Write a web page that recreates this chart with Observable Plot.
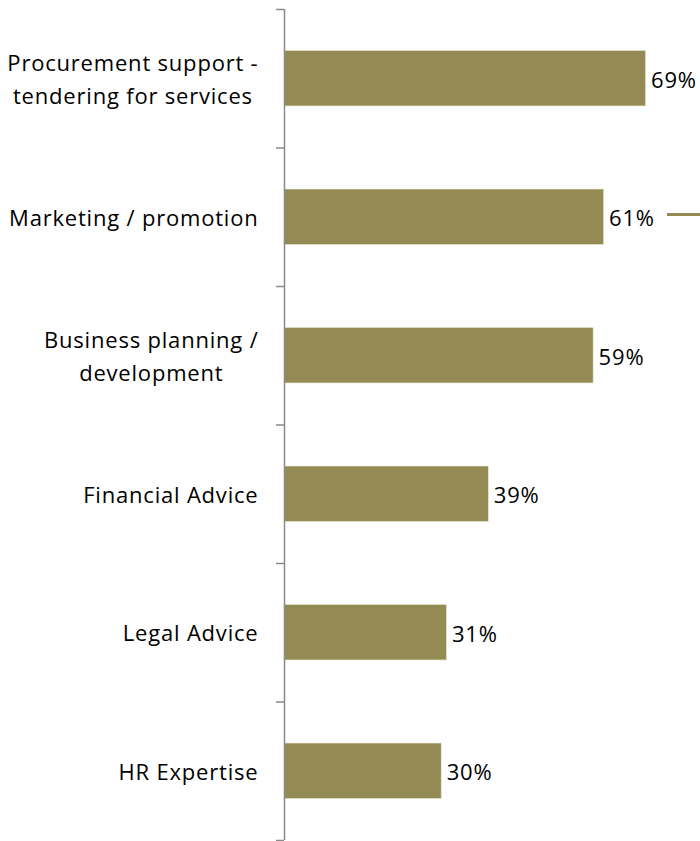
<!DOCTYPE html>
<html>
<head>
<meta charset="utf-8">
<script src="https://cdn.jsdelivr.net/npm/d3@7"></script>
<script src="https://cdn.jsdelivr.net/npm/@observablehq/plot@0.6"></script>
<style>
  html, body { margin: 0; padding: 0; background: #fff; }
  #wrap { position: relative; width: 700px; height: 841px; }
  #legendLine { position: absolute; left: 667px; top: 213px; width: 33px; height: 3px; background: #948A54; }
  svg text { letter-spacing: 0.8px; }
</style>
</head>
<body>
<div id="wrap"><div id="legendLine"></div></div>
<script>
const categories = [
  "Procurement support -\ntendering for services",
  "Marketing / promotion",
  "Business planning /\ndevelopment",
  "Financial Advice",
  "Legal Advice",
  "HR Expertise"
];
const values = [69, 61, 59, 39, 31, 30];
const valueLabels = ["69%", "61%", "59%", "39%", "31%", "30%"];

const data = categories.map((c, i) => ({cat: c, i, value: values[i], label: valueLabels[i]}));
const olive = "#948A54";
const FS = 22;

// measure text widths so multi-line labels are centred within a right-aligned block
const ctx = document.createElement("canvas").getContext("2d");
ctx.font = `${FS}px 'Open Sans'`;
try { ctx.letterSpacing = "0.8px"; } catch (e) {}
const lineW = s => ctx.measureText(s).width;

const labelMarks = data.map(d => {
  const w = Math.max(...d.cat.split("\n").map(lineW));
  return Plot.text([d], {x: 0, y: r => r.i + 0.5, text: "cat", textAnchor: "middle", dx: -26 - w / 2, dy: -2, lineHeight: 1.5, fontSize: FS, fill: "#000"});
});

const chart = Plot.plot({
  width: 700,
  height: 841,
  marginLeft: 284,
  marginRight: 0,
  marginTop: 9,
  marginBottom: 1,
  style: {fontFamily: "'Open Sans', sans-serif", fontSize: FS + "px", color: "#000", background: "transparent"},
  x: {domain: [0, 79.4], axis: null},
  y: {domain: [0, categories.length], reverse: true, axis: null},
  marks: [
    Plot.rectX(data, {x1: 0, x2: "value", y1: d => d.i + 0.3, y2: d => d.i + 0.7, fill: olive, stroke: "#e8e4cf", strokeWidth: 0.6}),
    Plot.axisY({ticks: d3.range(categories.length + 1), tickSize: 8, tickFormat: () => "", stroke: "#8a8a8a", strokeWidth: 1.5}),
    Plot.ruleX([0], {y1: 0, y2: categories.length, stroke: "#8a8a8a", strokeWidth: 1.5}),
    ...labelMarks,
    Plot.text(data, {x: "value", y: d => d.i + 0.5, text: "label", textAnchor: "start", dx: 5, dy: 2, fontSize: FS, fill: "#000"})
  ]
});
document.getElementById("wrap").appendChild(chart);
chart.style.position = "absolute";
chart.style.left = "0";
chart.style.top = "0";
</script>
</body>
</html>
